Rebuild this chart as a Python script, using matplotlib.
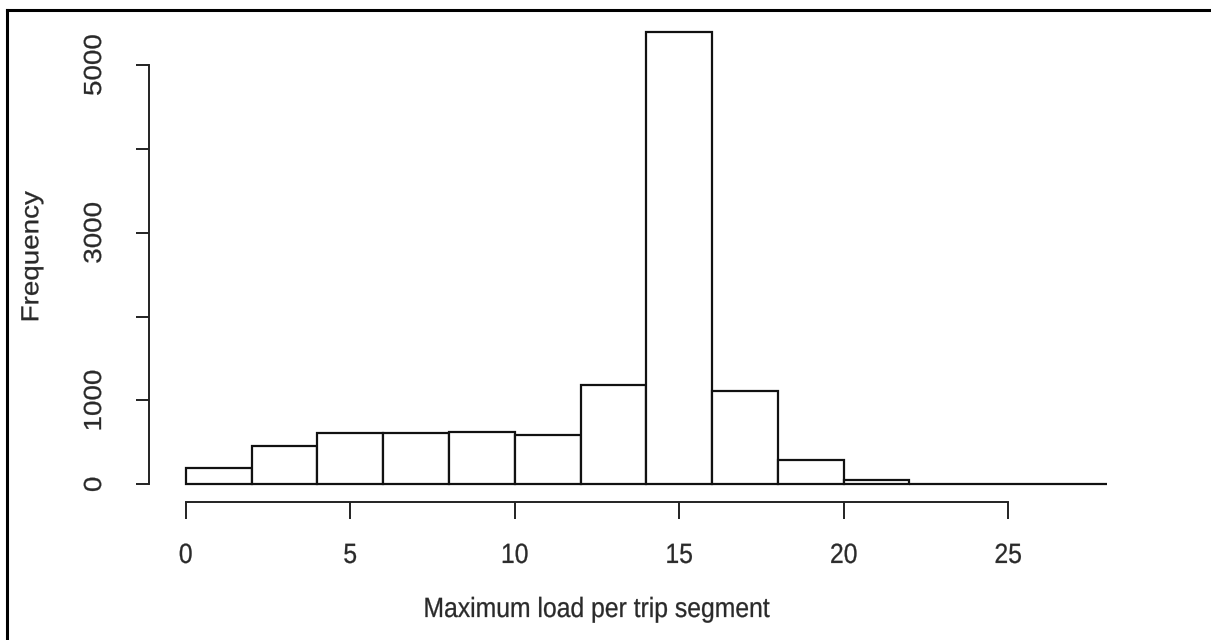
import matplotlib
matplotlib.use("Agg")
import matplotlib.pyplot as plt
import numpy as np
from matplotlib.lines import Line2D
from matplotlib.patheffects import AbstractPathEffect
from matplotlib.transforms import Affine2D

# Histogram of maximum load per trip segment (bins of width 2)
bin_edges = [0, 2, 4, 6, 8, 10, 12, 14, 16, 18, 20, 22, 24, 26, 28]
counts = [198, 453, 608, 608, 624, 584, 1184, 5390, 1116, 286, 51, 3, 2, 1]

x_ticks = [0, 5, 10, 15, 20, 25]
x_tick_labels = ["0", "5", "10", "15", "20", "25"]
y_ticks = [0, 1000, 2000, 3000, 4000, 5000]
y_tick_labels = ["0", "1000", "", "3000", "", "5000"]

x_label = "Maximum load per trip segment"
y_label = "Frequency"

plt.rcParams["font.family"] = ["Liberation Sans", "DejaVu Sans"]


class NarrowText(AbstractPathEffect):
    """Squeeze rendered glyphs horizontally about their own centre,
    with a faint outline to keep the strokes solid."""

    def __init__(self, sx=0.89, stroke=0.2):
        super().__init__()
        self.sx = sx
        self.stroke = stroke

    def draw_path(self, renderer, gc, tpath, affine, rgbFace=None):
        ext = affine.transform_path(tpath).get_extents()
        cx = 0.5 * (ext.x0 + ext.x1)
        squeeze = Affine2D().translate(-cx, 0).scale(self.sx, 1).translate(cx, 0)
        gc0 = renderer.new_gc()
        gc0.copy_properties(gc)
        gc0.set_linewidth(self.stroke)
        if rgbFace is not None:
            gc0.set_foreground(rgbFace)
        renderer.draw_path(gc0, tpath, affine + squeeze, rgbFace)
        gc0.restore()


narrow = [NarrowText(0.89, 0.2)]
text_color = "#2a2a2a"

W, H = 1211, 640
fig = plt.figure(figsize=(W / 100, H / 100), dpi=100)
fig.patch.set_facecolor("white")

# plot region in pixel coordinates
left_px, right_px, top_px, bottom_px = 148.9, 1143.7, 14.2, 502.4
ax = fig.add_axes([left_px / W, 1 - bottom_px / H,
                   (right_px - left_px) / W, (bottom_px - top_px) / H])

widths = np.diff(bin_edges)
ax.bar(bin_edges[:-1], counts, width=widths, align="edge",
       facecolor="white", edgecolor="#111111", linewidth=1.6)

# R-style 4% axis extension
xr = bin_edges[-1] - bin_edges[0]
ax.set_xlim(bin_edges[0] - 0.04 * xr, bin_edges[-1] + 0.04 * xr)
yr = max(counts)
ax.set_ylim(-0.04 * yr, 1.04 * yr)

for s in ("top", "right"):
    ax.spines[s].set_visible(False)
ax.spines["bottom"].set_bounds(x_ticks[0], x_ticks[-1])
ax.spines["left"].set_bounds(y_ticks[0], y_ticks[-1])
for s in ("bottom", "left"):
    ax.spines[s].set_linewidth(1.4)
    ax.spines[s].set_color("#222222")

ax.set_xticks(x_ticks)
ax.set_xticklabels(x_tick_labels)
ax.set_yticks(y_ticks)
ax.set_yticklabels(y_tick_labels, rotation=90, va="center")

ax.tick_params(axis="x", length=12.2, width=1.4, color="#222222",
               pad=17, labelsize=20, labelcolor=text_color)
ax.tick_params(axis="y", length=9.4, width=1.4, color="#222222",
               pad=20, labelsize=20, labelcolor=text_color)
for lbl in ax.get_xticklabels() + ax.get_yticklabels():
    lbl.set_path_effects(narrow)

fig.text(596 / W, 1 - 610 / H, x_label, ha="center", va="center",
         fontsize=20, color=text_color, path_effects=narrow)
fig.text(32 / W, 1 - 257 / H, y_label, ha="center", va="center",
         rotation=90, fontsize=20, color=text_color, path_effects=narrow)

# outer frame (top and left edges)
fig.add_artist(Line2D([6.5 / W, 6.5 / W], [0, 1 - 10 / H],
                      transform=fig.transFigure, color="black", linewidth=2.2))
fig.add_artist(Line2D([6.5 / W, 1], [1 - 10 / H, 1 - 10 / H],
                      transform=fig.transFigure, color="black", linewidth=2.2))

fig.savefig("out.png", dpi=100)
